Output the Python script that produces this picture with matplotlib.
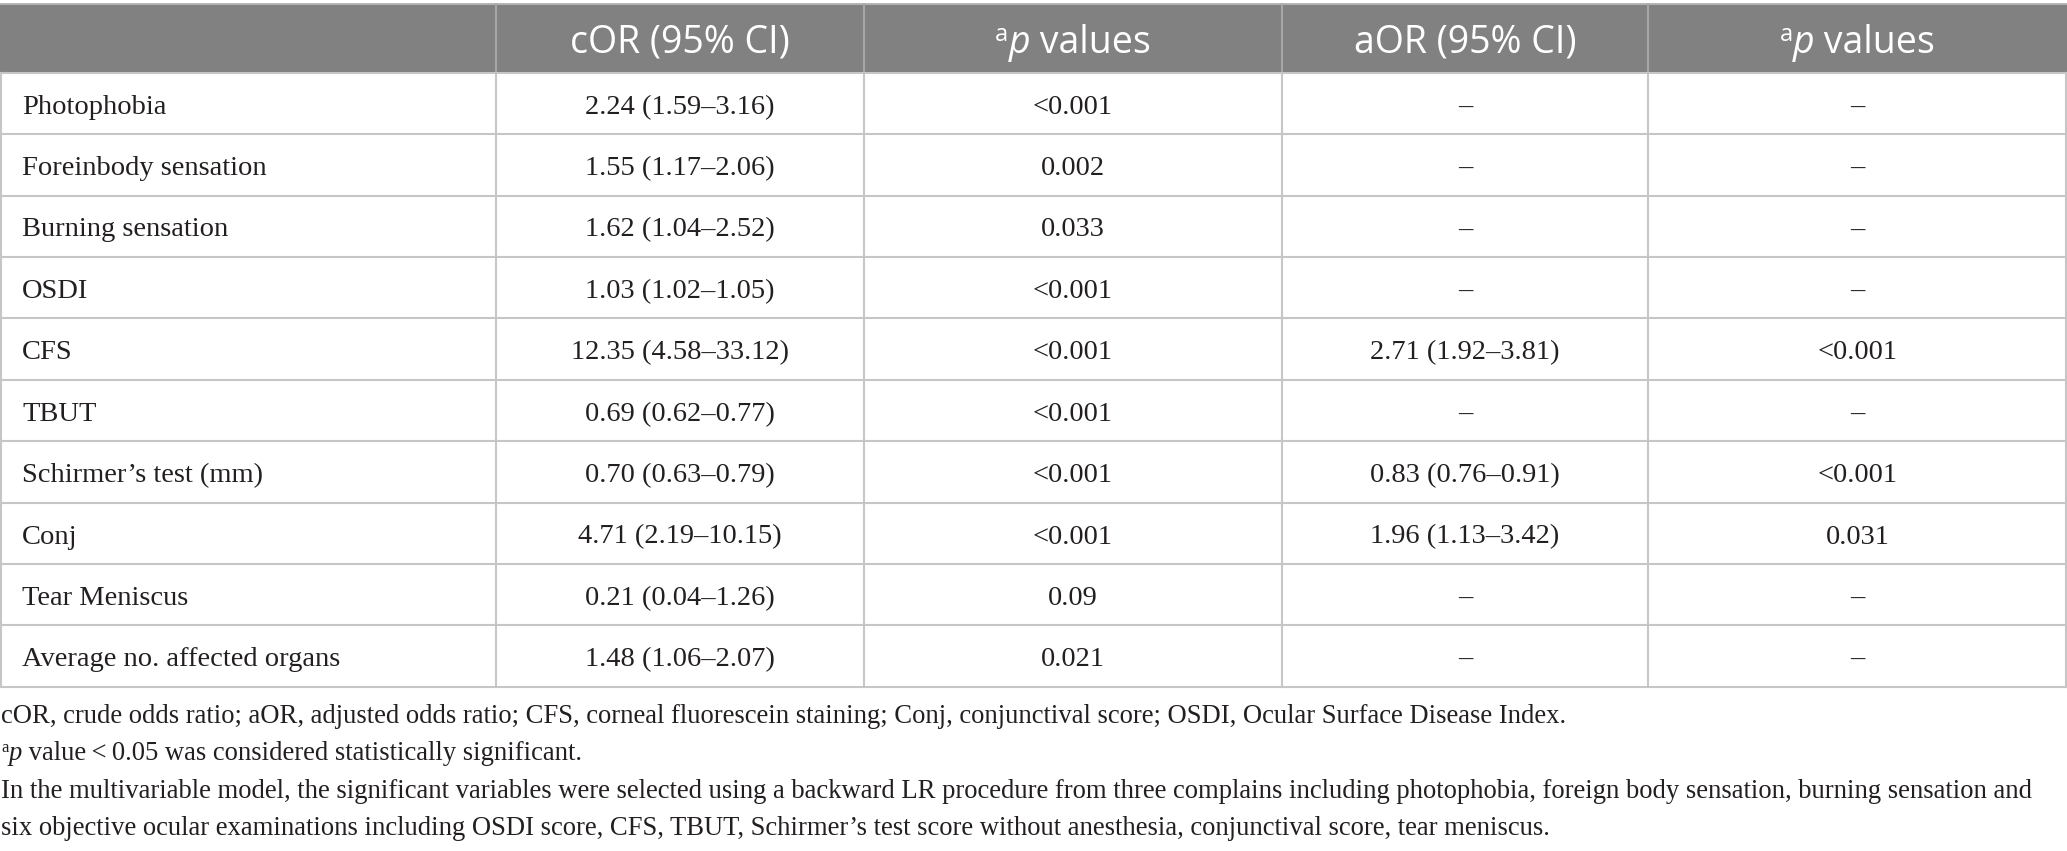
import matplotlib
matplotlib.use("Agg")
import matplotlib.pyplot as plt
from matplotlib.patches import Rectangle

# table content
variables = ["Photophobia", "Foreinbody sensation", "Burning sensation", "OSDI", "CFS",
             "TBUT", "Schirmer\u2019s test (mm)", "Conj", "Tear Meniscus",
             "Average no. affected organs"]
cor_ci = ["2.24 (1.59\u20133.16)", "1.55 (1.17\u20132.06)", "1.62 (1.04\u20132.52)",
          "1.03 (1.02\u20131.05)", "12.35 (4.58\u201333.12)", "0.69 (0.62\u20130.77)",
          "0.70 (0.63\u20130.79)", "4.71 (2.19\u201310.15)", "0.21 (0.04\u20131.26)",
          "1.48 (1.06\u20132.07)"]
cor_p = ["<0.001", "0.002", "0.033", "<0.001", "<0.001", "<0.001", "<0.001", "<0.001",
         "0.09", "0.021"]
aor_ci = ["\u2013", "\u2013", "\u2013", "\u2013", "2.71 (1.92\u20133.81)", "\u2013",
          "0.83 (0.76\u20130.91)", "1.96 (1.13\u20133.42)", "\u2013", "\u2013"]
aor_p = ["\u2013", "\u2013", "\u2013", "\u2013", "<0.001", "\u2013", "<0.001", "0.031",
         "\u2013", "\u2013"]
headers = ["", "cOR (95% CI)", "p values", "aOR (95% CI)", "p values"]

footnote1 = ("cOR, crude odds ratio; aOR, adjusted odds ratio; CFS, corneal fluorescein staining; "
             "Conj, conjunctival score; OSDI, Ocular Surface Disease Index.")
footnote2 = " value\u2009<\u20090.05 was considered statistically significant."
footnote3 = ("In the multivariable model, the significant variables were selected using a backward LR "
             "procedure from three complains including photophobia, foreign body sensation, burning sensation and")
footnote4 = ("six objective ocular examinations including OSDI score, CFS, TBUT, Schirmer\u2019s test score "
             "without anesthesia, conjunctival score, tear meniscus.")

W, H = 2067, 851
fig = plt.figure(figsize=(W / 100, H / 100), dpi=100)
ax = fig.add_axes([0, 0, 1, 1])
ax.set_xlim(0, W)
ax.set_ylim(H, 0)
ax.axis("off")

col_edges = [0, 496, 864, 1282, 1648, W]
head_top, head_bot = 4, 72.7
row_h = 61.4
serif = ["Liberation Serif", "DejaVu Serif"]
sans = ["Open Sans", "DejaVu Sans"]
txt_col = "#231f20"
grid_col = "#c6c6c6"
fn_size = 19.2

renderer = fig.canvas.get_renderer()


def rich(x, y, parts, ha="center", **kw):
    items = []
    for s, props, dy in parts:
        items.append(ax.text(0, y + dy, s, ha="left", va="baseline", **kw, **props))
    widths = [t.get_window_extent(renderer).width for t in items]
    start = x - sum(widths) / 2 if ha == "center" else x
    for t, w in zip(items, widths):
        t.set_x(start)
        start += w


# header band
ax.add_patch(Rectangle((0, head_top), W, head_bot - head_top, color="#818181", lw=0))
ax.plot([0, W], [head_top, head_top], color="#b4b4b4", lw=1.4)
for x in col_edges[1:-1]:
    ax.plot([x, x], [head_top, head_bot], color="#a9a9a9", lw=1.4)

for i, h in enumerate(headers):
    cx = (col_edges[i] + col_edges[i + 1]) / 2
    if h == "p values":
        rich(cx, 53, [("a", dict(fontsize=17), -12),
                      ("p", dict(fontsize=27, style="italic"), 0),
                      (" values", dict(fontsize=27), 0)],
             color="white", family=sans)
    elif h:
        ax.text(cx, 53, h, ha="center", va="baseline", fontsize=27, color="white", family=sans)

# body rows
n = len(variables)
body_bot = head_bot + n * row_h
for r in range(n + 1):
    y = head_bot + r * row_h
    ax.plot([0, W], [y, y], color=grid_col, lw=1.5)
for x in col_edges:
    xx = min(max(x, 1), W - 1)
    ax.plot([xx, xx], [head_bot, body_bot], color=grid_col, lw=1.5)

columns = [cor_ci, cor_p, aor_ci, aor_p]
for r in range(n):
    yb = head_bot + r * row_h + 41
    ax.text(22, yb, variables[r], ha="left", va="baseline", fontsize=20.5,
            color=txt_col, family=serif)
    for c, vals in enumerate(columns):
        cx = (col_edges[c + 1] + col_edges[c + 2]) / 2
        ax.text(cx, yb, vals[r], ha="center", va="baseline", fontsize=20.5,
                color=txt_col, family=serif)

# footnotes
ax.text(1, 722.7, footnote1, ha="left", va="baseline", fontsize=fn_size, color=txt_col, family=serif)
rich(1, 760.2, [("a", dict(fontsize=12), -8),
                ("p", dict(fontsize=fn_size, style="italic"), 0),
                (footnote2, dict(fontsize=fn_size), 0)],
     ha="left", color=txt_col, family=serif)
ax.text(1, 797.7, footnote3, ha="left", va="baseline", fontsize=fn_size, color=txt_col, family=serif)
ax.text(1, 835.2, footnote4, ha="left", va="baseline", fontsize=fn_size, color=txt_col, family=serif)

fig.savefig("out.png", dpi=100, facecolor="white")
